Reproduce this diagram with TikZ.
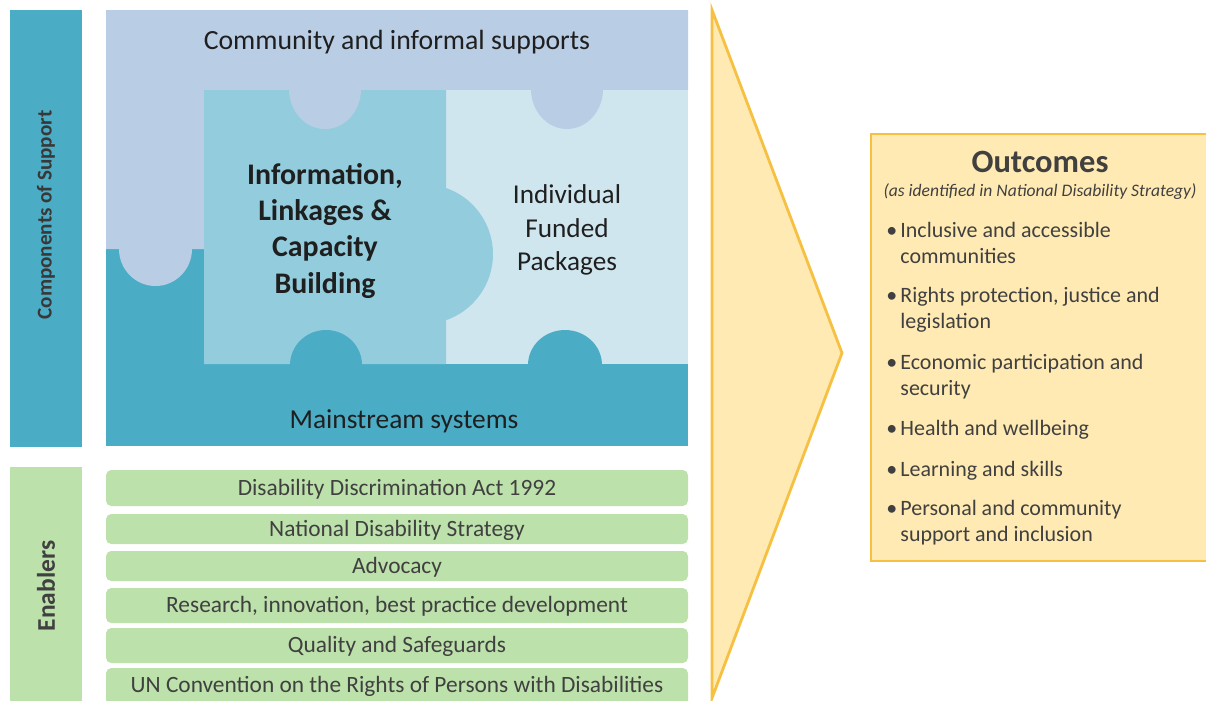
\documentclass[tikz,border=0pt]{standalone}
\usepackage{xcolor}
\usepackage{fontspec}
\setmainfont{Carlito}
\usepackage{tikz}

\definecolor{mainteal}{HTML}{4BACC6}
\definecolor{commblue}{HTML}{B9CDE5}
\definecolor{infoblue}{HTML}{93CDDD}
\definecolor{fundblue}{HTML}{CFE6EF}
\definecolor{enabgreen}{HTML}{BDE1AB}
\definecolor{outfill}{HTML}{FFEAB3}
\definecolor{outline}{HTML}{F6C143}
\definecolor{darktext}{HTML}{404040}

\newcommand{\outbullet}[1]{\parbox[t]{190pt}{\hangindent=8pt\hangafter=1\makebox[8pt][l]{\textbullet}#1}}

\begin{document}
\begin{tikzpicture}[x=0.02cm,y=-0.02cm,
  puzzletext/.style={align=center,inner sep=0pt,text=black!88},
  enabler/.style={fill=enabgreen,rounded corners=3pt},
  enabtext/.style={inner sep=0pt,text=darktext,font=\fontsize{13.3}{15}\selectfont},
  outitem/.style={anchor=base west,inner sep=0pt,text=darktext,font=\fontsize{12.5}{14.8}\selectfont}]
  \useasboundingbox (0,0) rectangle (1206,700);

  % side bars
  \fill[mainteal]  (10,10) rectangle (82,447);
  \fill[enabgreen] (10,467) rectangle (82,706);
  \node[rotate=90,font=\bfseries\fontsize{12}{14}\selectfont,text=black!78] (components) at (46,215) {Components of Support};
  \node[rotate=90,font=\bfseries\fontsize{14.5}{16}\selectfont,text=darktext] (enablers) at (46,586) {Enablers};

  % puzzle pieces
  \fill[mainteal] (106,10) rectangle (688,446);
  \fill[commblue] (106,10) -- (688,10) -- (688,90) -- (204,90) -- (204,249) -- (192,249)
    arc[start angle=0,end angle=180,x radius=36.5,y radius=37] -- (106,249) -- cycle;
  \fill[fundblue] (446,90) rectangle (688,364);
  \fill[infoblue] (204,90) -- (446,90) -- (446,188)
    arc[start angle=-70.8,end angle=70.8,radius=70] -- (446,364) -- (204,364) -- cycle;

  % knobs
  \fill[commblue] (289,89) arc[start angle=180,end angle=0,x radius=36,y radius=40] -- cycle;
  \fill[commblue] (531,89) arc[start angle=180,end angle=0,x radius=36,y radius=40] -- cycle;
  \fill[mainteal] (290,365) arc[start angle=180,end angle=360,x radius=36,y radius=35] -- cycle;
  \fill[mainteal] (528,365) arc[start angle=180,end angle=360,x radius=37,y radius=35] -- cycle;

  \node[puzzletext,font=\fontsize{15.8}{18}\selectfont] (community) at (397,42) {Community and informal supports};
  \node[puzzletext,font=\bfseries\fontsize{17}{20.5}\selectfont] (info) at (325,231) {Information,\\Linkages \&\\Capacity\\Building};
  \node[puzzletext,font=\fontsize{15.5}{19}\selectfont] (funded) at (567,230) {Individual\\Funded\\Packages};
  \node[puzzletext,font=\fontsize{15.6}{18}\selectfont] (mainstream) at (404,421) {Mainstream systems};

  % enablers
  \fill[enabler] (106,470) rectangle (688,506);
  \node[enabtext] (dda) at (397,489) {Disability Discrimination Act 1992};
  \fill[enabler] (106,514) rectangle (688,544);
  \node[enabtext] (nds) at (397,530) {National Disability Strategy};
  \fill[enabler] (106,551) rectangle (688,581);
  \node[enabtext] (advocacy) at (397,567) {Advocacy};
  \fill[enabler] (106,588) rectangle (688,623);
  \node[enabtext] (research) at (397,606) {Research, innovation, best practice development};
  \fill[enabler] (106,628) rectangle (688,663);
  \node[enabtext] (quality) at (397,646) {Quality and Safeguards};
  \fill[enabler] (106,668) rectangle (688,712);
  \node[enabtext] (uncrpd) at (397,686) {UN Convention on the Rights of Persons with Disabilities};

  % arrow
  \filldraw[fill=outfill,draw=outline,line width=1.6pt] (712,10) -- (842,353) -- (712,698) -- cycle;

  % outcomes
  \filldraw[fill=outfill,draw=outline,line width=1.6pt] (871,134) rectangle (1215,561);
  \node[font=\bfseries\fontsize{18.5}{20}\selectfont,text=darktext] (outcomes) at (1040,162) {Outcomes};
  \node[font=\itshape\fontsize{10}{11}\selectfont,text=darktext] (ndsnote) at (1040,192) {(as identified in National Disability Strategy)};
  \node[outitem] (inclusive) at (886,237) {\outbullet{Inclusive and accessible\\communities}};
  \node[outitem] (rights) at (886,302) {\outbullet{Rights protection, justice and\\legislation}};
  \node[outitem] (economic) at (886,369) {\outbullet{Economic participation and\\security}};
  \node[outitem] (health) at (886,435) {\outbullet{Health and wellbeing}};
  \node[outitem] (learning) at (886,476) {\outbullet{Learning and skills}};
  \node[outitem] (personal) at (886,515) {\outbullet{Personal and community\\support and inclusion}};
\end{tikzpicture}
\end{document}
